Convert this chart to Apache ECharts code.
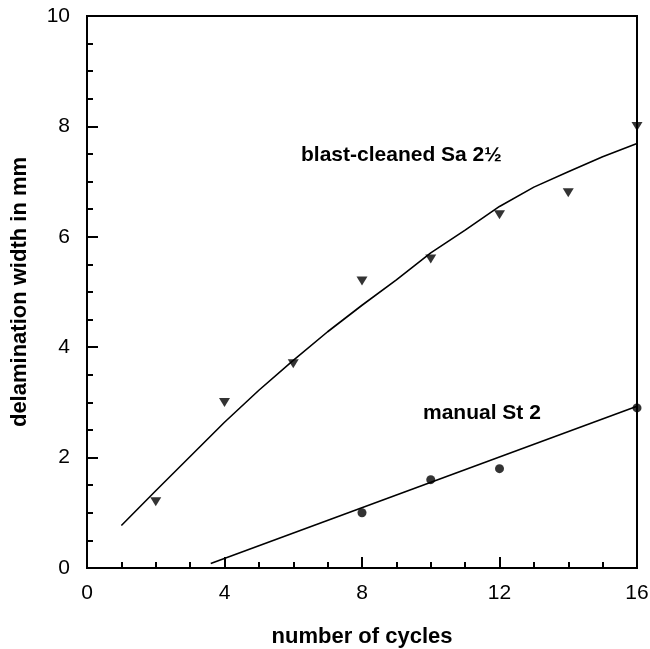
<!DOCTYPE html>
<html>
<head>
<meta charset="utf-8">
<script src="https://cdn.jsdelivr.net/npm/echarts@6/dist/echarts.min.js"></script>
<style>
html,body{margin:0;padding:0;background:#fff;}
#chart{width:650px;height:649px;}
</style>
</head>
<body>
<div id="chart"></div>
<script>
// Tick labels
const xTicks = [0, 4, 8, 12, 16];
const yTicks = [0, 2, 4, 6, 8, 10];
// Measured points
const blastCycles = [2, 4, 6, 8, 10, 12, 14, 16];
const blastValues = [1.2, 3.0, 3.7, 5.2, 5.6, 6.4, 6.8, 8.0];
const manualCycles = [8, 10, 12, 16];
const manualValues = [1.0, 1.6, 1.8, 2.9];
// Fitted curves
const blastFitX = [1, 2, 3, 4, 5, 6, 7, 8, 9, 10, 11, 12, 13, 14, 15, 16];
const blastFitY = [0.77, 1.40, 2.02, 2.64, 3.22, 3.76, 4.28, 4.76, 5.22, 5.71, 6.12, 6.55, 6.90, 7.18, 7.45, 7.69];
const manualFitX = [3.6, 16];
const manualFitY = [0.08, 2.93];
// Labels
const xTitle = 'number of cycles';
const yTitle = 'delamination width in mm';
const blastLabel = 'blast-cleaned Sa 2½';
const manualLabel = 'manual St 2';

const zip = (xs, ys) => xs.map((x, i) => [x, ys[i]]);
const FONT = '"Liberation Sans", Arial, Helvetica, sans-serif';

const chart = echarts.init(document.getElementById('chart'), null, {renderer: 'canvas'});
const axisCommon = {
  axisLine: {show: true, onZero: false, lineStyle: {color: '#000', width: 2}},
  axisTick: {show: true, inside: true, length: 11, lineStyle: {color: '#000', width: 2}},
  minorTick: {show: true, splitNumber: 4, length: 6, lineStyle: {color: '#000', width: 2}},
  splitLine: {show: false},
  axisLabel: {color: '#000', fontSize: 21, fontFamily: FONT},
  nameTextStyle: {color: '#000', fontSize: 22, fontWeight: 'bold', fontFamily: FONT}
};
chart.setOption({
  animation: false,
  backgroundColor: '#fff',
  grid: {left: 87, right: 13, top: 16, bottom: 81, containLabel: false, outerBoundsMode: 'none',
         show: true, borderColor: '#000', borderWidth: 2, backgroundColor: 'transparent'},
  xAxis: Object.assign({}, axisCommon, {
    type: 'value', min: xTicks[0], max: xTicks[xTicks.length - 1], interval: xTicks[1] - xTicks[0],
    name: xTitle, nameLocation: 'middle', nameGap: 58,
    axisLabel: Object.assign({}, axisCommon.axisLabel, {margin: 15})
  }),
  yAxis: Object.assign({}, axisCommon, {
    type: 'value', min: yTicks[0], max: yTicks[yTicks.length - 1], interval: yTicks[1] - yTicks[0],
    name: yTitle, nameLocation: 'middle', nameGap: 56, nameRotate: 90,
    axisLabel: Object.assign({}, axisCommon.axisLabel, {margin: 17})
  }),
  series: [
    {type: 'line', data: zip(blastFitX, blastFitY), showSymbol: false, symbol: 'none', smooth: false,
     lineStyle: {color: '#000', width: 1.6}, z: 2},
    {type: 'line', data: zip(manualFitX, manualFitY), showSymbol: false, symbol: 'none',
     lineStyle: {color: '#000', width: 1.6}, z: 2},
    {type: 'scatter', data: zip(blastCycles, blastValues), symbol: 'triangle', symbolRotate: 180,
     symbolSize: [11, 9], itemStyle: {color: '#000'}, z: 3},
    {type: 'scatter', data: zip(manualCycles, manualValues), symbol: 'circle',
     symbolSize: 9, itemStyle: {color: '#000'}, z: 3}
  ],
  graphic: [
    {type: 'text', left: 301, top: 145, style: {text: blastLabel, fill: '#000', font: 'bold 21px ' + FONT}},
    {type: 'text', left: 423, top: 403, style: {text: manualLabel, fill: '#000', font: 'bold 21px ' + FONT}}
  ]
});
</script>
</body>
</html>
